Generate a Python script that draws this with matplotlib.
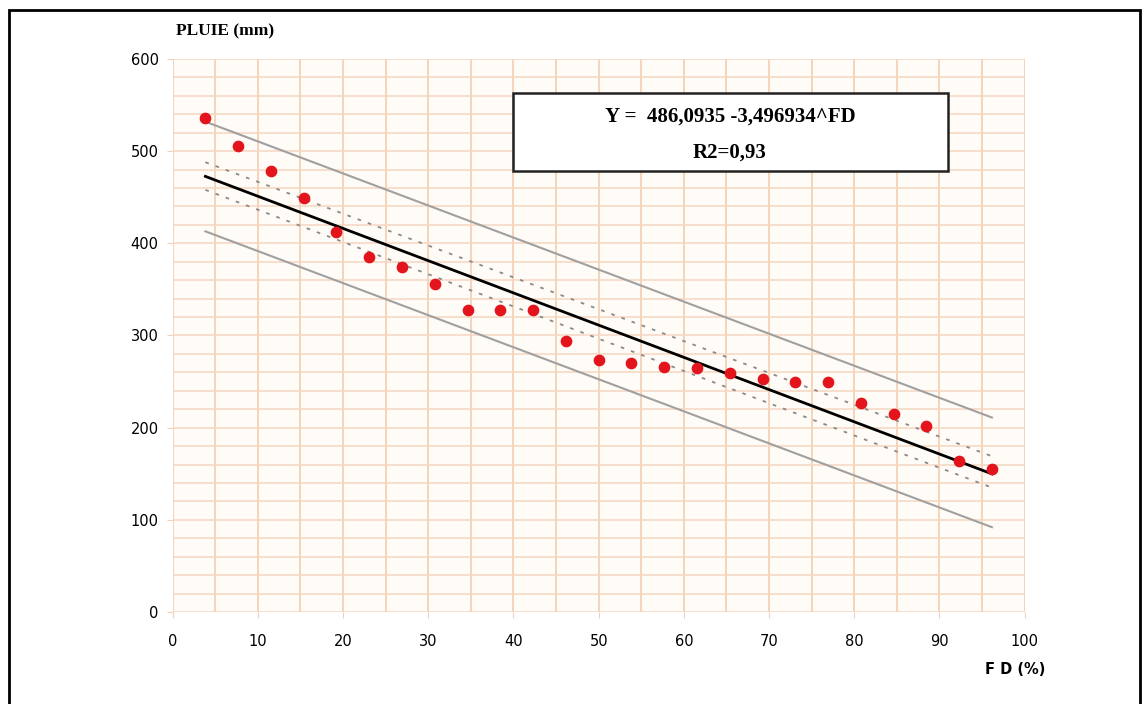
import matplotlib.pyplot as plt
import numpy as np
from matplotlib.patches import Rectangle

# FD (%) and rainfall (mm)
fd = [3.85, 7.69, 11.54, 15.38, 19.23, 23.08, 26.92, 30.77, 34.62, 38.46,
      42.31, 46.15, 50.0, 53.85, 57.69, 61.54, 65.38, 69.23, 73.08, 76.92,
      80.77, 84.62, 88.46, 92.31, 96.15]
pluie = [536, 506, 478, 449, 412, 385, 374, 356, 328, 328,
         328, 294, 273, 270, 266, 265, 259, 253, 250, 249,
         227, 215, 202, 164, 155]

# fitted equation shown in the box
a = 486.0935
b = -3.496934

# band ends (at first and last FD)
band_x = [3.85, 96.15]
outer_hi = [532, 211]
outer_lo = [413, 92]
inner_hi = [488, 169]
inner_lo = [458, 135]

fig = plt.figure(figsize=(11.43, 7.04), dpi=100)
ax = fig.add_axes([0.151, 0.1307, 0.7455, 0.7855])
ax.set_facecolor('#fffbf7')

ax.set_xlim(0, 100)
ax.set_ylim(0, 600)
ax.set_xticks(np.arange(0, 101, 10))
ax.set_yticks(np.arange(0, 601, 100))
ax.set_xticks(np.arange(0, 101, 5), minor=True)
ax.set_yticks(np.arange(0, 601, 20), minor=True)
ax.grid(which='both', axis='x', color='#f2c9ab', lw=1.1)
ax.grid(which='both', axis='y', color='#f6d6bf', lw=1.1)
ax.set_axisbelow(True)
for s in ax.spines.values():
    s.set_visible(False)
ax.tick_params(which='major', length=4, color='#ecd3c0', labelsize=10.5, pad=6)
ax.tick_params(which='minor', length=0)
ax.tick_params(axis='x', pad=12)

xl = np.array(band_x)
ax.plot(xl, a + b * xl, color='black', lw=2, zorder=3)
ax.plot(band_x, outer_hi, color='#a0a0a0', lw=1.5, zorder=3)
ax.plot(band_x, outer_lo, color='#a0a0a0', lw=1.5, zorder=3)
ax.plot(band_x, inner_hi, color='#8a8a8a', lw=1.3, ls=(0, (2, 4)), zorder=3)
ax.plot(band_x, inner_lo, color='#8a8a8a', lw=1.3, ls=(0, (2, 4)), zorder=3)

ax.scatter(fd, pluie, s=55, color='#e3141c', zorder=4)

fig.text(176 / 1143, 1 - 31 / 704, 'PLUIE (mm)', fontsize=12.5, fontweight='bold',
         family='Liberation Serif', va='center', ha='left')
fig.text(1045 / 1143, 1 - 670 / 704, 'F D (%)', fontsize=10.5, fontweight='bold',
         va='center', ha='right')

box = Rectangle((513 / 1143, 1 - 171 / 704), 435 / 1143, 78 / 704,
                transform=fig.transFigure, facecolor='white', edgecolor='#222222', lw=1.8)
fig.patches.append(box)
fig.text(730 / 1143, 1 - 117 / 704, 'Y =  486,0935 -3,496934^FD', fontsize=15, fontweight='bold',
         family='Liberation Serif', ha='center', va='center')
fig.text(730 / 1143, 1 - 153 / 704, 'R2=0,93', fontsize=15, fontweight='bold',
         family='Liberation Serif', ha='center', va='center')

frame = Rectangle((9 / 1143, -0.05), 1131 / 1143, 1.05 - 10 / 704,
                  transform=fig.transFigure, facecolor='none', edgecolor='black', lw=2)
fig.patches.append(frame)

fig.savefig('out.png', dpi=100)
